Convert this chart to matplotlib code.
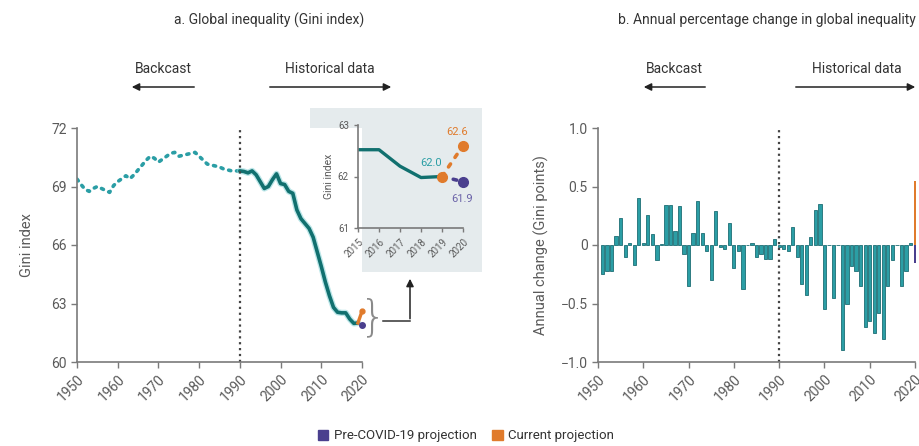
import matplotlib.pyplot as plt
from matplotlib.patches import Rectangle, Patch, FancyArrowPatch
from matplotlib.lines import Line2D

plt.rcParams['font.family'] = ['Roboto', 'DejaVu Sans']

# --- data ---
years_backcast = list(range(1950, 1991))
gini_backcast = [69.38, 69.1, 68.85, 68.75, 68.9, 69.0, 68.9, 68.8, 68.7, 69.05,
                 69.25, 69.4, 69.55, 69.4, 69.6, 69.85, 70.1, 70.35, 70.55, 70.45,
                 70.25, 70.4, 70.55, 70.7, 70.75, 70.55, 70.6, 70.65, 70.7, 70.75,
                 70.55, 70.35, 70.15, 70.1, 70.05, 70.0, 69.9, 69.85, 69.8, 69.8,
                 69.8]
years_hist = list(range(1990, 2020))
gini_hist = [69.8, 69.77, 69.7, 69.8, 69.6, 69.25, 68.9, 69.0, 69.35, 69.65,
             69.15, 69.1, 68.75, 68.65, 67.8, 67.35, 67.1, 66.85, 66.4, 65.65,
             64.9, 64.1, 63.4, 62.8, 62.55, 62.52, 62.52, 62.2, 61.98, 62.0]
proj_years = [2019, 2020]
gini_current = [62.0, 62.6]
gini_precovid = [62.0, 61.9]

change_years = list(range(1951, 2020))
change_values = [-0.25, -0.22, -0.22, 0.08, 0.23, -0.10, 0.02, -0.17, 0.40, 0.02,
                 0.26, 0.09, -0.13, 0.01, 0.34, 0.34, 0.12, 0.33, -0.08, -0.35,
                 0.10, 0.38, 0.10, -0.05, -0.30, 0.29, -0.02, -0.03, 0.19, -0.20,
                 -0.05, -0.38, 0.00, 0.02, -0.10, -0.08, -0.12, -0.12, 0.05, -0.02,
                 -0.03, -0.05, 0.15, -0.10, -0.33, -0.43, 0.07, 0.30, 0.35, -0.55,
                 0.00, -0.45, 0.00, -0.90, -0.50, -0.18, -0.22, -0.35, -0.70, -0.65,
                 -0.75, -0.58, -0.80, -0.35, -0.13, 0.00, -0.35, -0.22, 0.02]
change_current_2020 = 0.55
change_precovid_2020 = -0.15

decade_ticks = list(range(1950, 2021, 10))
gini_ticks = [60, 63, 66, 69, 72]
change_ticks = [-1.0, -0.5, 0, 0.5, 1.0]
change_tick_labels = ['\u22121.0', '\u22120.5', '0', '0.5', '1.0']
inset_years = list(range(2015, 2021))

TEAL_DARK = '#11706f'
TEAL = '#2b9ea5'
ORANGE = '#e07b2c'
PURPLE = '#4a3f8e'
GRAY = '#5a5a5a'
AXIS = '#7a7a7a'

W, H = 920, 446
fig = plt.figure(figsize=(W / 100, H / 100), dpi=100)


def fx(px):
    return px / W


def fy(py):
    return 1 - py / H


def style_axes(ax, fs=9):
    for s in ['top', 'right']:
        ax.spines[s].set_visible(False)
    for s in ['left', 'bottom']:
        ax.spines[s].set_color(AXIS)
        ax.spines[s].set_linewidth(1.2)
    ax.tick_params(colors=AXIS, labelcolor=GRAY, labelsize=fs, length=4, width=1)


# --- panel a ---
ax1 = fig.add_axes([fx(77), fy(362), fx(285), 234 / H])
style_axes(ax1, 10)
ax1.plot(years_backcast, gini_backcast, ls=(0, (0.6, 1.6)), lw=2.6,
         color=TEAL, dash_capstyle='round')
ax1.plot(years_hist, gini_hist, color='#8fd6da', lw=4.5, alpha=0.6, solid_capstyle='round')
ax1.plot(years_hist, gini_hist, color=TEAL_DARK, lw=2.6, solid_capstyle='round')
ax1.plot(proj_years, gini_current, color=ORANGE, lw=2.4, clip_on=False)
ax1.plot(proj_years[-1:], gini_precovid[-1:], 'o', color=PURPLE, ms=4, clip_on=False)
ax1.plot(proj_years[-1:], gini_current[-1:], 'o', color=ORANGE, ms=3.5, clip_on=False)
ax1.axvline(1990, color='#444444', ls=':', lw=1.6)
ax1.set_xlim(1950, 2020)
ax1.set_ylim(60, 72)
ax1.set_yticks(gini_ticks)
ax1.set_xticks(decade_ticks)
ax1.set_xticklabels([str(y) for y in decade_ticks], rotation=45, ha='right',
                    rotation_mode='anchor')
ax1.set_ylabel('Gini index', color=GRAY, fontsize=10.5, labelpad=12)

# inset background and inset axes
fig.add_artist(Rectangle((fx(310), fy(272)), fx(172), 164 / H,
                         transform=fig.transFigure, facecolor='#e5ebed',
                         edgecolor='none', zorder=0))
axi = fig.add_axes([fx(358), fy(228), fx(105), 103 / H])
axi.set_facecolor('none')
style_axes(axi, 7)
axi.tick_params(length=3)
axi.plot(inset_years[:5], gini_hist[-5:], color=TEAL_DARK, lw=2.4)
axi.plot(proj_years, gini_precovid, ls=(0, (1, 2.2)), lw=2.6, color=PURPLE,
         dash_capstyle='round', clip_on=False)
axi.plot(proj_years[-1:], gini_precovid[-1:], 'o', color=PURPLE, ms=7, clip_on=False)
axi.plot(proj_years, gini_current, ls=(0, (1, 2.2)), lw=2.6, color=ORANGE,
         dash_capstyle='round', clip_on=False)
axi.plot(proj_years, gini_current, 'o', color=ORANGE, ms=7, clip_on=False)
axi.text(2018.5, 62.27, f'{gini_hist[-1]:.1f}', color=TEAL, fontsize=8, ha='center', va='center')
axi.text(2019.7, 62.87, f'{gini_current[-1]:.1f}', color=ORANGE, fontsize=8, ha='center', va='center')
axi.text(2019.95, 61.57, f'{gini_precovid[-1]:.1f}', color='#6a62a8', fontsize=8, ha='center', va='center')
axi.set_xlim(2015, 2020)
axi.set_ylim(61, 63)
axi.set_yticks([61, 62, 63])
axi.set_xticks(inset_years)
axi.set_xticklabels([str(y) for y in inset_years], rotation=45, ha='right',
                    rotation_mode='anchor')
axi.set_ylabel('Gini index', color=GRAY, fontsize=7.5, labelpad=3)

# brace and connector arrow
fig.text(fx(373), fy(318), '}', fontsize=30, color='#8a8a8a', ha='center', va='center',
         family='DejaVu Sans', fontweight='light')
fig.add_artist(Line2D([fx(383), fx(410)], [fy(321), fy(321)], color='#333333', lw=1.1,
                      transform=fig.transFigure))
fig.add_artist(FancyArrowPatch(
    (fx(410), fy(321.5)), (fx(410), fy(276)), transform=fig.transFigure,
    arrowstyle='-|>', mutation_scale=11, color='#222222', lw=1.1))

# --- panel b ---
ax2 = fig.add_axes([fx(598), fy(362), fx(317), 234 / H])
style_axes(ax2, 10)
ax2.bar(change_years, change_values, width=0.72, color=TEAL, edgecolor='#1d6e74', lw=0.6)
ax2.bar([2020], [change_current_2020], width=0.45, color=ORANGE, clip_on=False)
ax2.bar([2020], [change_precovid_2020], width=0.45, color=PURPLE, clip_on=False)
ax2.axvline(1990, color='#444444', ls=':', lw=1.6)
ax2.set_xlim(1950, 2020)
ax2.set_ylim(-1.0, 1.0)
ax2.set_yticks(change_ticks)
ax2.set_yticklabels(change_tick_labels)
ax2.set_xticks(decade_ticks)
ax2.set_xticklabels([str(y) for y in decade_ticks], rotation=45, ha='right',
                    rotation_mode='anchor')
ax2.set_ylabel('Annual change (Gini points)', color=GRAY, fontsize=10.5, labelpad=8)

# --- titles and backcast / historical labels ---
fig.text(fx(269), fy(20), 'a. Global inequality (Gini index)', fontsize=10,
         color='#333333', ha='center', va='center')
fig.text(fx(916), fy(20), 'b. Annual percentage change in global inequality', fontsize=10,
         color='#333333', ha='right', va='center')

for (txt_x, a_from, a_to, label) in [(163, 197, 129, 'Backcast'),
                                       (330, 267, 394, 'Historical data'),
                                       (674, 708, 641, 'Backcast'),
                                       (857, 793, 918, 'Historical data')]:
    fig.text(fx(txt_x), fy(69), label, fontsize=10, color='#333333',
             ha='center', va='center')
    fig.add_artist(FancyArrowPatch(
        (fx(a_from), fy(87)), (fx(a_to), fy(87)), transform=fig.transFigure,
        arrowstyle='-|>', mutation_scale=11, color='#222222', lw=1.1))

# --- legend ---
handles = [Patch(color=PURPLE, label='Pre-COVID-19 projection'),
           Patch(color=ORANGE, label='Current projection')]
fig.legend(handles=handles, loc='center', bbox_to_anchor=(fx(466), fy(436)), ncol=2,
           frameon=False, fontsize=9.5, handlelength=0.8, handleheight=0.8,
           handletextpad=0.4, columnspacing=1.2, labelcolor='#333333')

fig.savefig('out.png', dpi=100)
